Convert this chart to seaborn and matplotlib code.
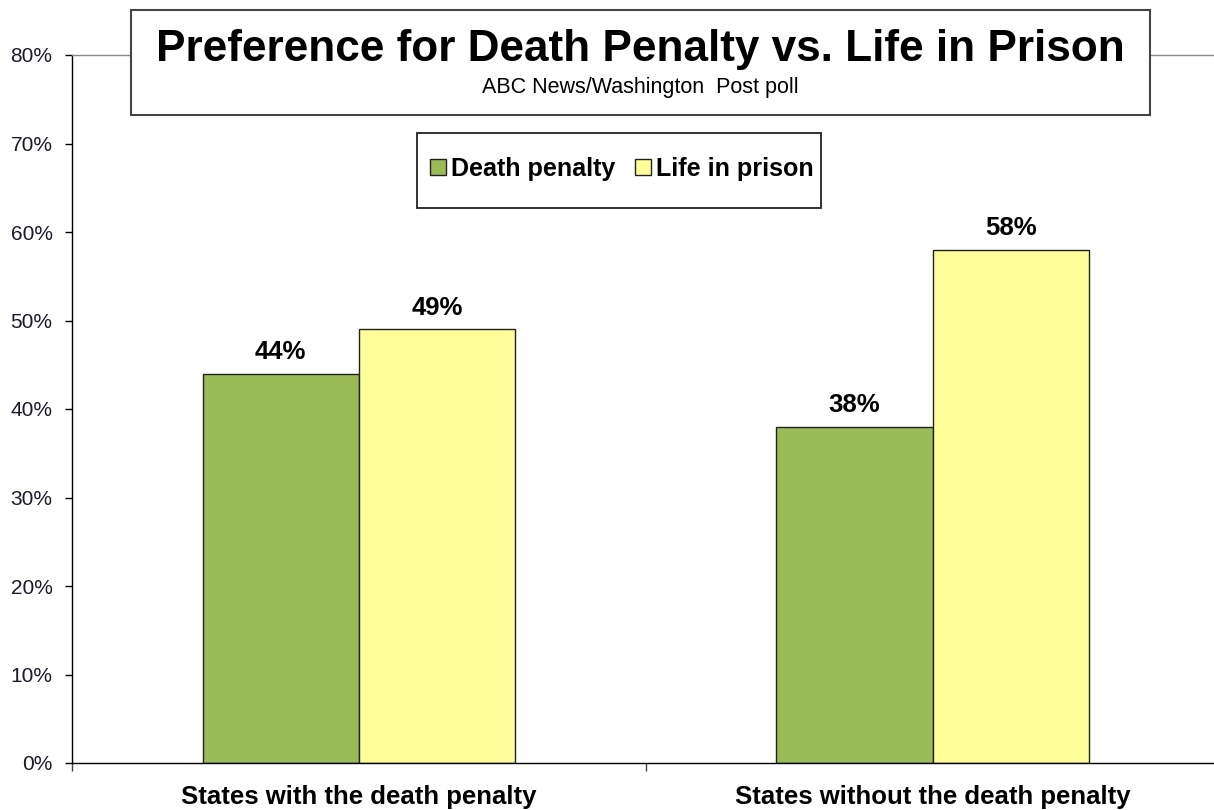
import pandas as pd
import matplotlib.pyplot as plt
import seaborn as sns
from matplotlib.patches import Rectangle

# chart values
categories = ['States with the death penalty', 'States without the death penalty']
series = ['Death penalty', 'Life in prison']
death_penalty = [44, 38]
life_in_prison = [49, 58]
y_ticks = [0, 10, 20, 30, 40, 50, 60, 70, 80]

df = pd.DataFrame({
    'category': categories * 2,
    'series': [series[0]] * 2 + [series[1]] * 2,
    'value': [v / 100 for v in death_penalty + life_in_prison],
})

sns.set_style('white')
plt.rcParams['font.family'] = ['Liberation Sans', 'DejaVu Sans']
plt.rcParams['text.color'] = 'black'

fig = plt.figure(figsize=(12.14, 8.10), dpi=100)
ax = fig.add_axes([72 / 1214, 1 - 763 / 810, 1 - 72 / 1214, (763 - 55) / 810])

sns.barplot(data=df, x='category', y='value', hue='series',
            palette=['#9BBB59', '#FFFF99'], width=0.545,
            edgecolor='#222222', linewidth=1, saturation=1, ax=ax)

for cont in ax.containers:
    ax.bar_label(cont, labels=[f'{round(b.get_height() * 100)}%' for b in cont],
                 padding=7, fontsize=18.5, fontweight='bold', color='black')

ax.set_ylim(0, 0.8)
ax.set_xlim(-0.5, 1.49)
ax.set_yticks([t / 100 for t in y_ticks])
ax.set_yticklabels([f'{t}%' for t in y_ticks], fontsize=15, color='#1a1a2a')
ax.tick_params(axis='y', direction='out', length=5, width=1, color='black', left=True, pad=9)

ax.set_xticks([0, 1])
ax.set_xticklabels(categories, fontsize=18.5, fontweight='bold', color='black')
ax.tick_params(axis='x', length=0, pad=16)
ax.set_xticks([-0.5, 0.5], minor=True)
ax.tick_params(axis='x', which='minor', direction='out', length=6, width=1, color='#444444', bottom=True)
ax.set_xlabel('')
ax.set_ylabel('')

for s in ['left', 'bottom']:
    ax.spines[s].set_color('black')
    ax.spines[s].set_linewidth(1)
ax.spines['right'].set_visible(False)
ax.spines['top'].set_color('#888888')
ax.spines['top'].set_linewidth(1)

# legend: entries without frame, box drawn separately (Excel pads it unevenly)
leg = ax.legend(loc='center', bbox_to_anchor=(622 / 1214, 1 - 169 / 810),
                bbox_transform=fig.transFigure, ncol=2, frameon=False,
                prop={'weight': 'bold', 'size': 18.1}, handlelength=0.64, handleheight=0.64,
                handletextpad=0.2, columnspacing=0.78, borderpad=0, borderaxespad=0)
for t in leg.get_texts():
    t.set_color('black')
ax.add_patch(Rectangle((417 / 1214, 1 - 208 / 810), 404 / 1214, 75 / 810,
                       transform=fig.transFigure, facecolor='white', clip_on=False,
                       edgecolor='#222222', linewidth=1.3, zorder=4))

# title box
fig.patches.append(Rectangle((131 / 1214, 1 - 115 / 810), 1019 / 1214, 105 / 810,
                             transform=fig.transFigure, facecolor='white',
                             edgecolor='#444444', linewidth=1.5, zorder=5))
fig.text(640 / 1214, 1 - 50 / 810, 'Preference for Death Penalty vs. Life in Prison',
         ha='center', va='center', fontsize=31.8, fontweight='bold', zorder=6)
fig.text(640 / 1214, 1 - 88 / 810, 'ABC News/Washington  Post poll',
         ha='center', va='center', fontsize=15.5, zorder=6)

plt.savefig('out.png', dpi=100)
